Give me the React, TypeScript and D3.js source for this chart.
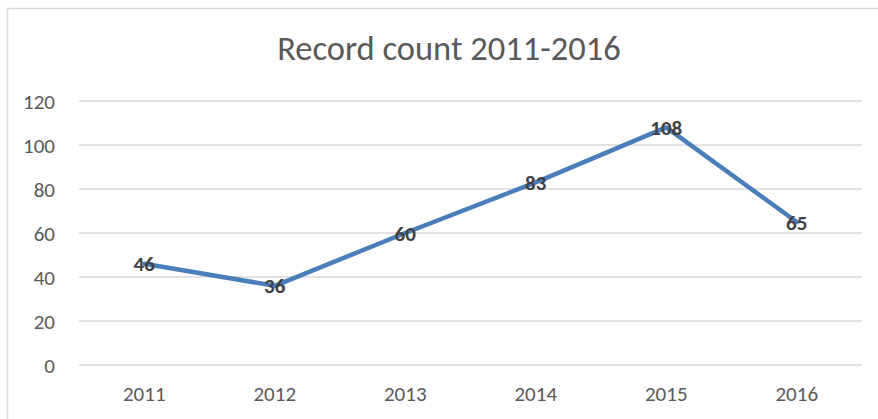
import { useEffect } from 'react'
import * as d3 from 'd3'

const years = ['2011', '2012', '2013', '2014', '2015', '2016']
const counts = [46, 36, 60, 83, 108, 65]
const yTicks = [0, 20, 40, 60, 80, 100, 120]
const title = 'Record count 2011-2016'

const W = 878
const H = 419
const font = "Calibri, Carlito, 'Open Sans', sans-serif"

export default function App() {
  useEffect(() => {
    document.body.style.margin = '0'
  }, [])

  const x = d3.scaleBand().domain(years).range([79, 862])
  const y = d3.scaleLinear().domain([0, 120]).range([365, 101])
  const cx = (d: string) => (x(d) ?? 0) + x.bandwidth() / 2

  const line = d3.line<number>()
    .x((_, i) => cx(years[i]))
    .y(d => y(d))

  return (
    <svg width={W} height={H} style={{ display: 'block', background: '#fff' }}>
      {/* chart frame: only top and left edges are visible */}
      <rect x={7.5} y={8.5} width={W + 20} height={H + 20} fill="none" stroke="#d9d9d9" strokeWidth={1.5} />

      <text x={449} y={60} textAnchor="middle" fontFamily={font} fontSize={34.5} fill="#595959">
        {title}
      </text>

      {yTicks.map(t => (
        <g key={t}>
          <line x1={79} x2={862} y1={y(t)} y2={y(t)} stroke="#d9d9d9" strokeWidth={1.3} />
          <text x={55} y={y(t)} dy="0.36em" textAnchor="end" fontFamily={font} fontSize={21} fill="#595959">
            {t}
          </text>
        </g>
      ))}

      {years.map(yr => (
        <text key={yr} x={cx(yr)} y={401} textAnchor="middle" fontFamily={font} fontSize={21} fill="#595959">
          {yr}
        </text>
      ))}

      <path d={line(counts) ?? ''} fill="none" stroke="#4a7ebb" strokeWidth={4.5} strokeLinejoin="round" strokeLinecap="round" />

      {counts.map((c, i) => (
        <text key={i} x={cx(years[i])} y={y(c)} dy="0.36em" textAnchor="middle" fontFamily={font} fontSize={21} fontWeight="bold" fill="#404040">
          {c}
        </text>
      ))}
    </svg>
  )
}
